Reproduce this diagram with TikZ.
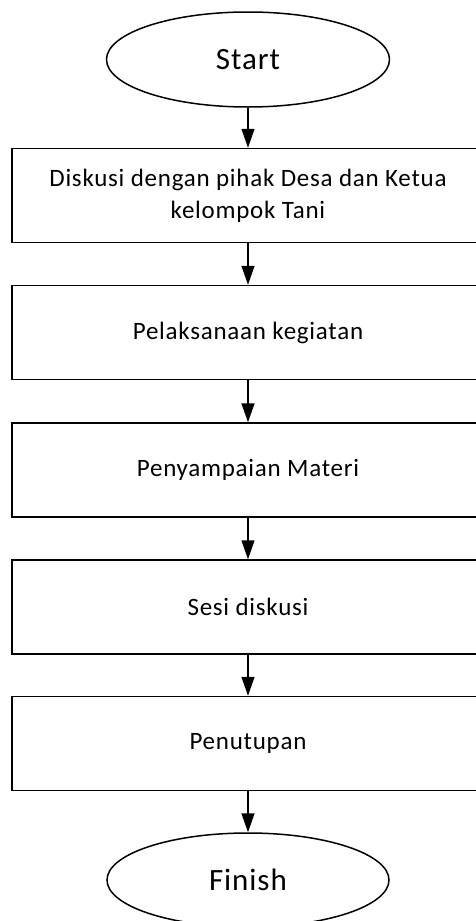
\documentclass[tikz,border=0pt]{standalone}
\usepackage{fontspec}
\setmainfont{Carlito}
\usetikzlibrary{shapes.geometric,arrows.meta}
\tikzset{
  term/.style={draw, line width=1.5pt, ellipse, inner sep=0pt, font=\fontsize{31}{36}\selectfont\addfontfeature{LetterSpace=3}},
  procbox/.style={draw, line width=1.5pt, rectangle, inner sep=0pt, minimum width=472pt, minimum height=94pt, align=center, font=\fontsize{25}{32}\selectfont\addfontfeature{LetterSpace=3}},
  flow/.style={draw, line width=1.5pt, -{Triangle[length=19pt,width=13pt]}}
}
\begin{document}
\begin{tikzpicture}[x=1pt,y=-1pt]
\useasboundingbox (0,0) rectangle (476,921);
\clip (0,0) rectangle (476,921);
\node[term, minimum width=283pt, minimum height=95pt] (start) at (248,59.5) {Start};
\node[procbox] (b1) at (248,195.5) {Diskusi dengan pihak Desa dan Ketua\\kelompok Tani};
\node[procbox] (b2) at (248,332.5) {Pelaksanaan kegiatan};
\node[procbox] (b3) at (248,470) {Penyampaian Materi};
\node[procbox] (b4) at (248,607) {Sesi diskusi};
\node[procbox] (b5) at (248,743.5) {Penutupan};
\node[term, minimum width=282pt, minimum height=94pt] (finish) at (248,880) {Finish};
\draw[flow] (start) -- (b1);
\draw[flow] (b1) -- (b2);
\draw[flow] (b2) -- (b3);
\draw[flow] (b3) -- (b4);
\draw[flow] (b4) -- (b5);
\draw[flow] (b5) -- (finish);
\end{tikzpicture}
\end{document}
